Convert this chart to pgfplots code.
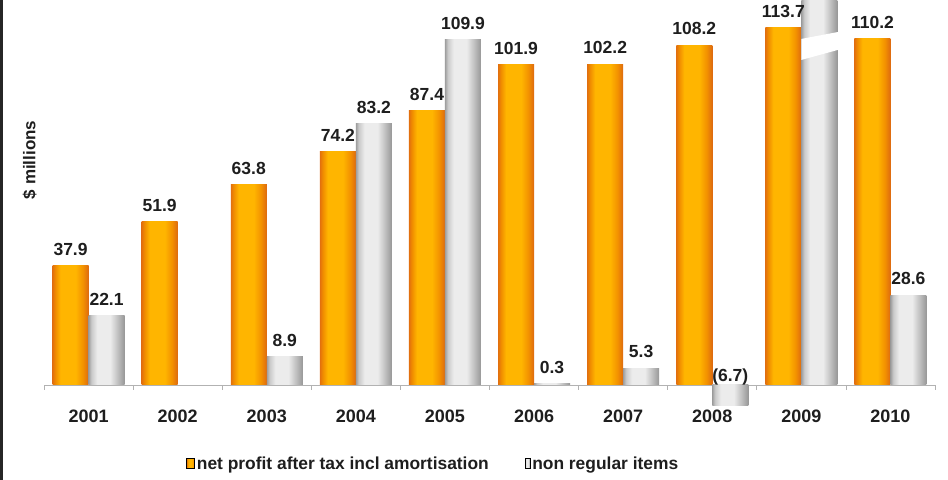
\documentclass[border=0pt]{standalone}
\usepackage{pgfplots}
\pgfplotsset{compat=1.18}
\usepackage{pgfplotstable}
\usepackage{fontspec}
\setmainfont{Liberation Sans}
\definecolor{orE}{HTML}{E2700E}
\definecolor{orA}{HTML}{F08C00}
\definecolor{orM}{HTML}{FFB500}
\definecolor{orB}{HTML}{F39200}
\definecolor{orE2}{HTML}{DD6A10}
\definecolor{grE}{HTML}{9E9E9E}
\definecolor{grA}{HTML}{CACACA}
\definecolor{grM}{HTML}{ECECEC}
\definecolor{grB}{HTML}{BEBEBE}
\definecolor{grE2}{HTML}{979797}
\definecolor{txt}{HTML}{1E1E1E}
\pgfdeclarehorizontalshading{orbar}{100bp}{color(0bp)=(orE); color(25bp)=(orE); color(29bp)=(orA); color(36bp)=(orM); color(57bp)=(orM); color(67bp)=(orB); color(75bp)=(orE2); color(100bp)=(orE2)}
\pgfdeclarehorizontalshading{grbar}{100bp}{color(0bp)=(grE); color(25bp)=(grE); color(29bp)=(grA); color(37bp)=(grM); color(55bp)=(grM); color(66bp)=(grB); color(75bp)=(grE2); color(100bp)=(grE2)}

\pgfplotstableread{
x net olab nonreg gy glab
0 37.9 37.9 22.1 22.1 22.1
1 51.9 51.9 nan nan {}
2 63.8 63.8 8.9 8.9 8.9
3 74.2 74.2 83.2 83.2 83.2
4 87.4 87.4 109.9 109.9 109.9
5 101.9 101.9 0.3 0.3 0.3
6 102.2 102.2 5.3 5.3 5.3
7 108.2 108.2 -6.7 nan {}
8 113.7 113.7 125 nan {}
9 110.2 110.2 28.6 28.6 28.6
}\data

\begin{document}
\begin{tikzpicture}
\begin{axis}[
  scale only axis, width=891pt, height=410pt,
  xmin=-0.5, xmax=9.5, ymin=-8, ymax=122.6,
  axis x line=middle, axis y line=left,
  y axis line style={draw=none}, ytick=\empty,
  x axis line style={-, draw=black!30, line width=0.7pt},
  xtick={0,...,9},
  xticklabels={\textbf{2001},\textbf{2002},\textbf{2003},\textbf{2004},\textbf{2005},\textbf{2006},\textbf{2007},\textbf{2008},\textbf{2009},\textbf{2010}},
  major x tick style={draw=none},
  minor xtick={-0.5,0.5,...,9.5},
  minor x tick style={draw=black!30, line width=0.7pt},
  minor tick length=5pt, tick align=outside,
  hide obscured x ticks=false,
  xticklabel style={font=\bfseries\fontsize{18}{18}\selectfont, text=txt, yshift=-17pt},
  every axis y label/.style={at={(axis description cs:-0.016,0.61)}, anchor=center, rotate=90, font=\bfseries\fontsize{17}{17}\selectfont, text=txt},
  ylabel={\$ millions},
  legend style={at={(axis description cs:0.437,-0.131)}, anchor=center, draw=none, fill=none,
    legend columns=2, font=\bfseries\fontsize{17.4}{17.4}\selectfont, text=txt,
    /tikz/every even column/.append style={column sep=34pt}, inner sep=0pt},
  nodes near coords style={font=\bfseries\fontsize{17.5}{17.5}\selectfont, text=txt, inner sep=2pt, yshift=8pt},
]
\addlegendimage{legend image code/.code={\fill[shade, shading=orbar] (-2pt,-5pt) rectangle (6pt,5pt);}}
\addlegendentry{net profit after tax incl amortisation}
\addlegendimage{legend image code/.code={\fill[shade, shading=grbar] (1pt,-5pt) rectangle (6pt,5pt);}}
\addlegendentry{non regular items}
% one bar per plot so that each bar carries its own shading
\pgfplotsinvokeforeach{0,...,9}{
  \addplot[ybar, bar width=36pt, bar shift=-18pt, draw=none, shade, shading=orbar, forget plot]
    table[x=x, y=net, restrict x to domain=#1:#1]{\data};
}
\pgfplotsinvokeforeach{0,2,3,4,5,6,7,8,9}{
  \addplot[ybar, bar width=36pt, bar shift=18pt, draw=none, shade, shading=grbar, forget plot]
    table[x=x, y=nonreg, restrict x to domain=#1:#1]{\data};
}
% axis break on the 2009 bar
\fill[white] (axis cs:8.0,103.5) -- (axis cs:8.41,106.7) -- (axis cs:8.41,112.4) -- (axis cs:8.0,110.2) -- cycle;
% value labels
\addplot[draw=none, mark=none, forget plot,
  point meta=explicit symbolic, nodes near coords, nodes near coords style={xshift=-18pt}]
  table[x=x, y=net, meta=olab]{\data};
\addplot[draw=none, mark=none, forget plot,
  point meta=explicit symbolic, nodes near coords, nodes near coords style={xshift=18pt}]
  table[x=x, y=gy, meta=glab]{\data};
\addplot[draw=none, mark=none, forget plot,
  point meta=explicit symbolic, nodes near coords, nodes near coords style={xshift=18pt, yshift=-10pt}]
  coordinates {(7,0) [(6.7)]};
\coordinate (bl) at (axis description cs:-0.0494,-0.1707);
\coordinate (tr) at (axis description cs:1.0146,1);
\coordinate (lt) at (axis description cs:-0.0477,1);
\coordinate (lb) at (axis description cs:-0.0477,-0.1707);
\end{axis}
\draw[black!85, line width=3pt] (lb) -- (lt);
\pgfresetboundingbox
\path[use as bounding box] (bl) rectangle (tr);
\end{tikzpicture}
\end{document}
